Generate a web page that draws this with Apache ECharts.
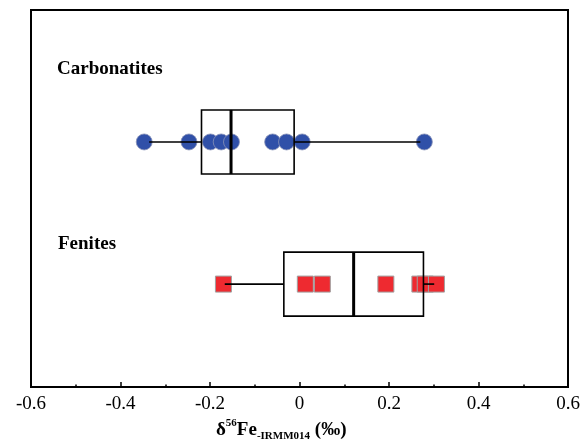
<!DOCTYPE html>
<html>
<head>
<meta charset="utf-8">
<script src="https://cdn.jsdelivr.net/npm/echarts@6/dist/echarts.min.js"></script>
<style>
  html, body { margin: 0; padding: 0; background: #fff; }
  #main { width: 584px; height: 446px; }
</style>
</head>
<body>
<div id="main"></div>
<script>
var chartDom = document.getElementById('main');
var myChart = echarts.init(chartDom);
var option;

// delta56Fe values
const carbonatites = [-0.347, -0.247, -0.199, -0.175, -0.152, -0.060, -0.029, 0.006, 0.279];
const fenites = [-0.170, 0.013, 0.051, 0.193, 0.269, 0.281, 0.306];

// group names and their vertical level (0 = bottom, 1 = top)
const groups = ['Carbonatites', 'Fenites'];
const groupLevel = [0.65, 0.273];

// box stats: whisker low, q1, median, q3, whisker high
const boxStats = [
    [-0.336, -0.219, -0.153, -0.012, 0.270],
    [-0.167, -0.035, 0.121, 0.277, 0.301]
];

const serif = "'Liberation Serif', 'Times New Roman', serif";

option = {
    animation: false,
    grid: {
        left: 31,
        right: 16,
        top: 10,
        bottom: 59,
        show: true,
        borderColor: '#000',
        borderWidth: 2
    },
    xAxis: {
        type: 'value',
        min: -0.6,
        max: 0.6,
        interval: 0.2,
        splitLine: { show: false },
        axisLine: { lineStyle: { color: '#000', width: 2 } },
        axisTick: { inside: true, length: 5, lineStyle: { color: '#000', width: 1.5 } },
        minorTick: { show: true, splitNumber: 2, length: 2.5, lineStyle: { color: '#000', width: 1.5 } },
        axisLabel: {
            color: '#000',
            fontFamily: serif,
            fontSize: 19,
            margin: 8,
            formatter: function (v) {
                return Math.abs(v) < 1e-9 ? '0' : v.toFixed(1);
            }
        }
    },
    yAxis: {
        type: 'value',
        min: 0,
        max: 1,
        show: false
    },
    series: [
        {
            type: 'scatter',
            z: 2,
            symbol: 'circle',
            symbolSize: 16,
            itemStyle: { color: '#3050A8', borderColor: '#8a93b8', borderWidth: 0.8, opacity: 1 },
            data: carbonatites.map(v => [v, groupLevel[0]])
        },
        {
            type: 'scatter',
            z: 2,
            symbol: 'rect',
            symbolSize: 16,
            itemStyle: { color: '#EE2A30', borderColor: '#a0a0a0', borderWidth: 1, opacity: 1 },
            data: fenites.map(v => [v, groupLevel[1]])
        },
        {
            type: 'custom',
            z: 5,
            data: boxStats.map((s, i) => [groupLevel[i]].concat(s)),
            renderItem: function (params, api) {
                const lvl = api.value(0);
                const p = k => api.coord([api.value(k), lvl]);
                const lo = p(1), q1 = p(2), md = p(3), q3 = p(4), hi = p(5);
                const y = lo[1];
                const h = 32;
                const line = { stroke: '#000', lineWidth: 1.6 };
                return {
                    type: 'group',
                    children: [
                        { type: 'line', shape: { x1: lo[0], y1: y, x2: q1[0], y2: y }, style: line },
                        { type: 'line', shape: { x1: q3[0], y1: y, x2: hi[0], y2: y }, style: line },
                        { type: 'rect', shape: { x: q1[0], y: y - h, width: q3[0] - q1[0], height: 2 * h }, style: { fill: null, stroke: '#000', lineWidth: 1.6 } },
                        { type: 'line', shape: { x1: md[0], y1: y - h, x2: md[0], y2: y + h }, style: { stroke: '#000', lineWidth: 3 } }
                    ]
                };
            }
        }
    ],
    graphic: {
        elements: [
            {
                type: 'text', left: 57, top: 60,
                style: { text: groups[0], font: 'bold 19px ' + serif, fill: '#000' }
            },
            {
                type: 'text', left: 58, top: 235,
                style: { text: groups[1], font: 'bold 19px ' + serif, fill: '#000' }
            },
            {
                type: 'text', left: 216, top: 418,
                style: {
                    text: '{m|δ}{sup|56}{m|Fe}{sub|-IRMM014}{m| (‰)}',
                    rich: {
                        m: { fontFamily: serif, fontWeight: 'bold', fontSize: 19, lineHeight: 24, fill: '#000' },
                        sup: { fontFamily: serif, fontWeight: 'bold', fontSize: 11, lineHeight: 13, verticalAlign: 'top', fill: '#000' },
                        sub: { fontFamily: serif, fontWeight: 'bold', fontSize: 11, lineHeight: 12, verticalAlign: 'bottom', fill: '#000' }
                    }
                }
            }
        ]
    }
};

myChart.setOption(option);
</script>
</body>
</html>
